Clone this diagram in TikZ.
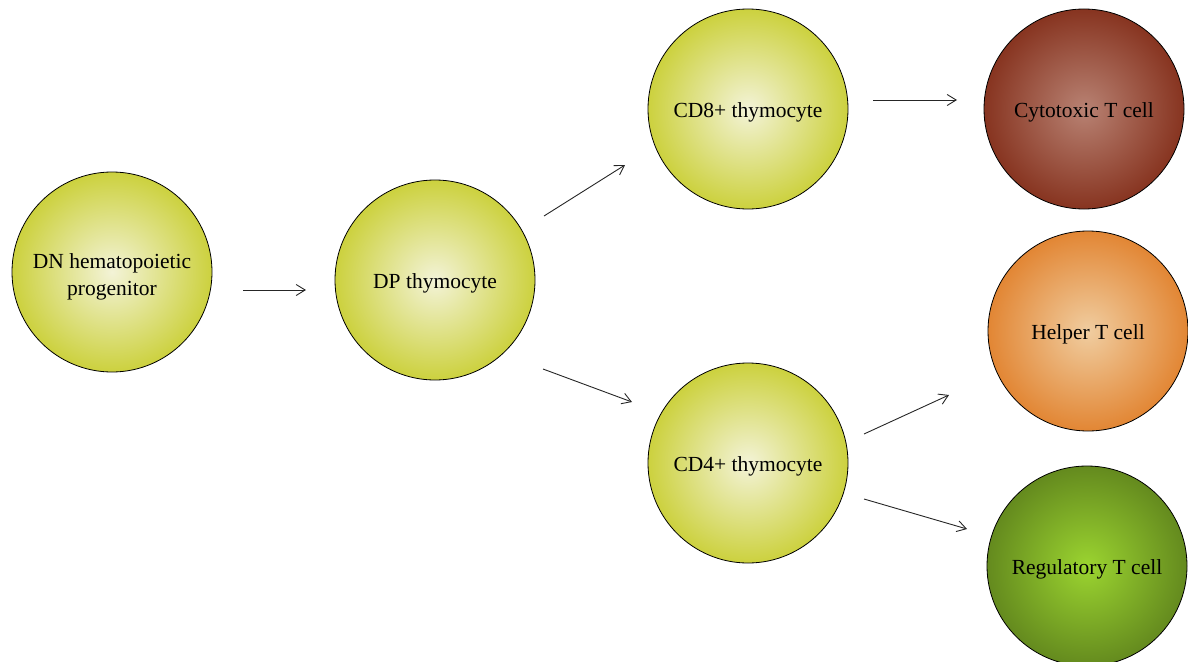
\documentclass[tikz,border=0pt]{standalone}
\usepackage{fontspec}
\setmainfont{Liberation Serif}
\usetikzlibrary{arrows.meta}
\definecolor{ygout}{RGB}{204,209,62}
\definecolor{ygin}{RGB}{243,243,215}
\definecolor{cyout}{RGB}{135,52,32}
\definecolor{cyin}{RGB}{184,130,115}
\definecolor{heout}{RGB}{226,134,52}
\definecolor{hein}{RGB}{240,205,160}
\definecolor{reout}{RGB}{100,138,30}
\definecolor{rein}{RGB}{155,212,48}
\begin{document}
\begin{tikzpicture}[x=1pt,y=-1pt,
  cell/.style={circle,draw=black,line width=0.8pt,minimum size=200pt,inner sep=0pt,
    align=center,font=\fontsize{21.5}{27}\selectfont,text=black,
    text height=18pt,text depth=1.5pt},
  yg/.style={cell,inner color=ygin,outer color=ygout},
  conn/.style={-{Straight Barb[length=9pt,width=11pt]},line width=0.9pt,draw=black!85}]
\useasboundingbox (0,0) rectangle (1188,661);
\node[yg,text height=47.5pt] (dn) at (112,272) {DN hematopoietic\\progenitor};
\node[yg] (dp) at (435,280) {DP thymocyte};
\node[yg] (cd8) at (748,109) {CD8+ thymocyte};
\node[yg] (cd4) at (748,463) {CD4+ thymocyte};
\node[cell,inner color=cyin,outer color=cyout] (cyt) at (1084,109) {Cytotoxic T cell};
\node[cell,inner color=hein,outer color=heout] (hel) at (1088,331) {Helper T cell};
\node[cell,inner color=rein,outer color=reout] (reg) at (1087,566) {Regulatory T cell};
\coordinate (a1s) at (243,290); \coordinate (a1e) at (306,290);
\coordinate (a2s) at (544,216); \coordinate (a2e) at (625,165);
\coordinate (a3s) at (543,369); \coordinate (a3e) at (632,402);
\coordinate (a4s) at (873,100); \coordinate (a4e) at (957,100);
\coordinate (a5s) at (864,434); \coordinate (a5e) at (949,395);
\coordinate (a6s) at (864,499); \coordinate (a6e) at (967,529);
\draw[conn] (a1s) -- (a1e);
\draw[conn] (a2s) -- (a2e);
\draw[conn] (a3s) -- (a3e);
\draw[conn] (a4s) -- (a4e);
\draw[conn] (a5s) -- (a5e);
\draw[conn] (a6s) -- (a6e);
\end{tikzpicture}
\end{document}
